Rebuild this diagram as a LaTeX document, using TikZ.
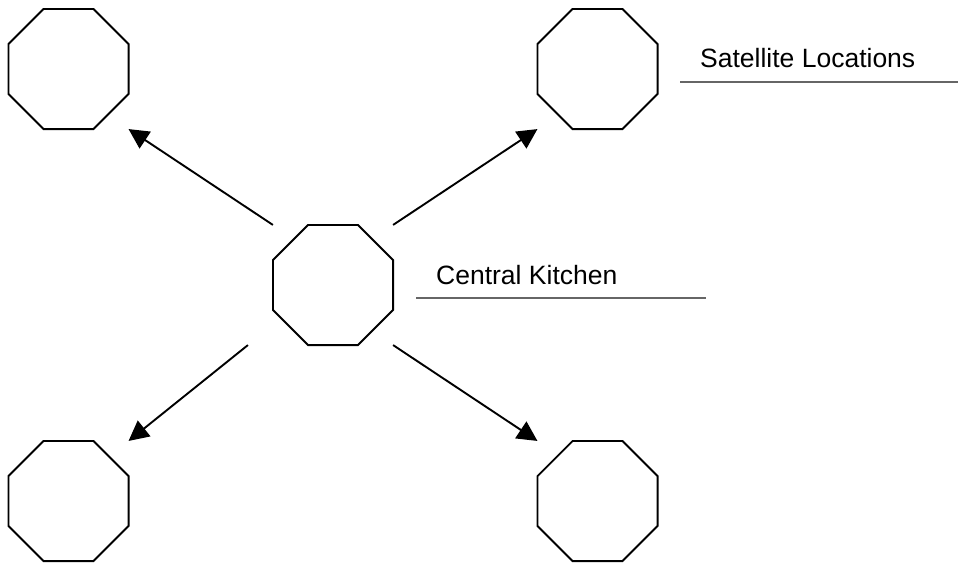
\documentclass[tikz,border=0pt]{standalone}
\usepackage{fontspec}
\setmainfont{Liberation Sans}
\usepackage{tikz}
\usetikzlibrary{positioning}
\usetikzlibrary{shapes,arrows.meta}
\tikzstyle{site} = [regular polygon, regular polygon sides=8, minimum size=130pt, inner sep=0pt, outer sep=0pt, draw=black, line width=1.9pt]
\tikzstyle{tag} = [inner sep=0pt, anchor=base west, font=\fontsize{26.5pt}{30pt}\selectfont]
\tikzstyle{tagline} = [draw=black!60, line width=1.1pt]
\tikzstyle{line} = [draw, line width=1.9pt, -{Triangle[length=20pt,width=20pt]}]

\begin{document}
\begin{tikzpicture}[node distance = 216pt and 264.5pt]
				\useasboundingbox (0,0) rectangle (958pt,-563pt);
				% Place nodes
				\node [site] (hub) at (333pt,-285pt) {};
				\node [site, on grid, above left = 216pt and 264.5pt of hub] (nw) {};
				\node [site, on grid, above right = 216pt and 264.5pt of hub] (ne) {};
				\node [site, on grid, below left = 216pt and 264.5pt of hub] (sw) {};
				\node [site, on grid, below right = 216pt and 264.5pt of hub] (se) {};
				\node [tag, right = 103pt of hub.center, anchor=base west, yshift=1pt] (kitchen) {Central Kitchen};
				\node [tag, right = 102.5pt of ne.center, anchor=base west, yshift=2pt] (sites) {Satellite Locations};
				\coordinate (hubsw) at (hub.west |- hub.south);
				% Underlines
				\draw [tagline] ([shift={(-20pt,-14pt)}]kitchen.base west) -- +(290pt,0);
				\draw [tagline] ([shift={(-20pt,-15pt)}]sites.base west) -- +(278pt,0);
				% Arrows
				\path [line] (hub.west |- hub.north) -- (nw.east |- nw.south);
				\path [line] (hub.east |- hub.north) -- (ne.west |- ne.south);
				\path [line] (hub.east |- hub.south) -- (se.west |- se.north);
				\path [line] ([xshift=-25pt]hubsw) -- (sw.east |- sw.north);
\end{tikzpicture}
\end{document}
